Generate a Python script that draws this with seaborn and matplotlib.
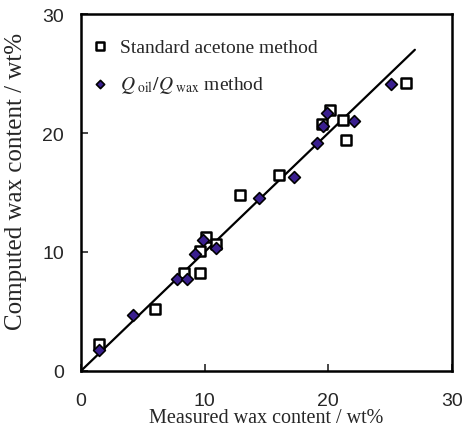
"""
Computed vs measured wax content: acetone method and Q_oil/Q_wax method.
"""

import matplotlib
matplotlib.use("Agg")
import matplotlib.pyplot as plt
import seaborn as sns
import pandas as pd

# measured / computed wax content, wt%
acetone_measured = [1.5, 6.0, 8.3, 9.6, 9.6, 10.1, 10.9, 12.9, 16.0, 19.5, 20.1, 21.2, 21.4, 26.3]
acetone_computed = [2.3, 5.2, 8.2, 8.2, 10.1, 11.3, 10.7, 14.8, 16.5, 20.8, 21.9, 21.1, 19.4, 24.2]

ratio_measured = [1.5, 4.2, 7.8, 8.6, 9.2, 9.9, 10.9, 14.4, 17.2, 19.1, 19.6, 19.9, 22.1, 25.1]
ratio_computed = [1.8, 4.7, 7.7, 7.7, 9.8, 11.0, 10.3, 14.5, 16.3, 19.2, 20.6, 21.7, 21.0, 24.1]

line_x = [0, 27]
line_y = [0, 27]

ticks = [0, 10, 20, 30]


def main():
    sns.set_theme(style="ticks")
    plt.rcParams["font.family"] = ["Liberation Sans", "DejaVu Sans"]
    plt.rcParams["mathtext.fontset"] = "stix"

    fig = plt.figure(figsize=(4.65, 4.31), dpi=100)
    ax = fig.add_axes([0.174, 0.137, 0.798, 0.828])

    sns.lineplot(x=line_x, y=line_y, ax=ax, color="black", lw=1.6, zorder=1)

    sns.scatterplot(x=acetone_measured, y=acetone_computed, ax=ax, marker="s",
                    s=60, facecolor="white", edgecolor="black", linewidth=1.8,
                    zorder=2, label="Standard acetone method")
    sns.scatterplot(x=ratio_measured, y=ratio_computed, ax=ax, marker="D",
                    s=36, color="#3a1f8f", edgecolor="black", linewidth=1.2,
                    zorder=3, label=r"$Q_{\ \mathrm{oil}}/Q_{\ \mathrm{wax}}$ method")

    ax.set_xlim(0, 30)
    ax.set_ylim(0, 30)
    ax.set_xticks(ticks)
    ax.set_yticks(ticks)
    ax.tick_params(direction="in", length=5, width=1.2, labelsize=14)
    ax.tick_params(axis="x", pad=15)
    ax.tick_params(axis="y", pad=12)
    for s in ax.spines.values():
        s.set_linewidth(1.8)
        s.set_color("black")

    ax.set_xlabel("Measured wax content / wt%", family="Liberation Serif",
                  fontsize=14.5, labelpad=-0.5)
    ax.set_ylabel("Computed wax content / wt%", family="Liberation Serif",
                  fontsize=18)
    ax.yaxis.set_label_coords(-0.145, 0.535)

    ax.legend(loc="upper left", bbox_to_anchor=(0.0, 0.955), frameon=False,
              prop={"family": "Liberation Serif", "size": 14},
              handletextpad=0.4, markerscale=0.7, borderaxespad=0.2, borderpad=0.2,
              labelspacing=0.95, handlelength=1.2)

    fig.savefig("out.png", dpi=100)
    plt.close(fig)


if __name__ == "__main__":
    main()
